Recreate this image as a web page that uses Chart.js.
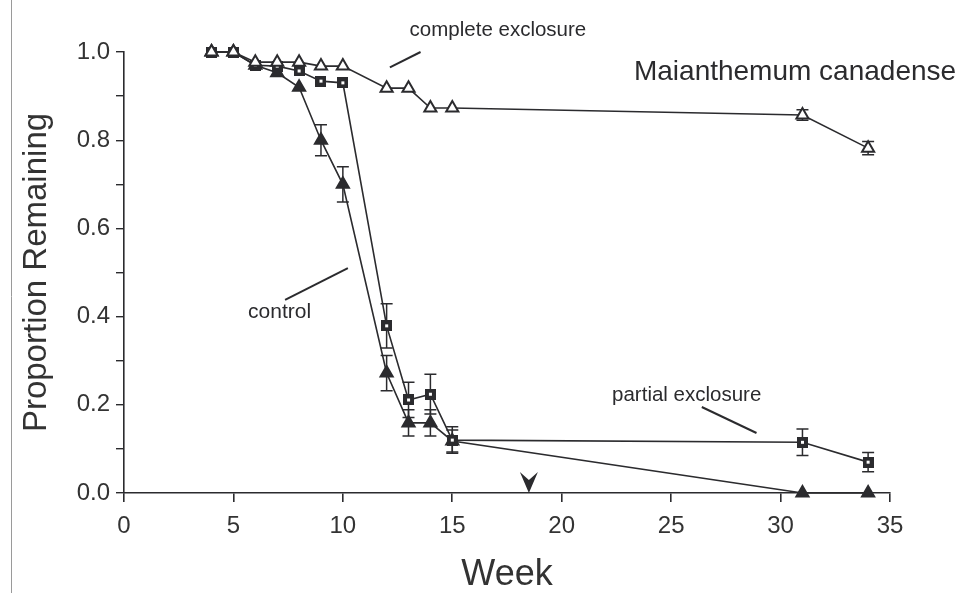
<!DOCTYPE html>
<html>
<head>
<meta charset="utf-8">
<script src="https://cdn.jsdelivr.net/npm/chart.js@4"></script>
<style>
  html, body { margin: 0; padding: 0; background: #fff; }
  #wrap { width: 973px; height: 593px; }
</style>
</head>
<body>
<div id="wrap"><canvas id="chart" width="973" height="593"></canvas></div>
<script>
// weeks sampled
const weeks = [4, 5, 6, 7, 8, 9, 10, 12, 13, 14, 15, 31, 34];

// proportion remaining per treatment
const complete = [1.0, 1.0, 0.977, 0.977, 0.977, 0.968, 0.968, 0.918, 0.918, 0.873, 0.873, 0.857, 0.782];
const partial  = [1.0, 1.0, 0.97, 0.968, 0.957, 0.934, 0.93, 0.379, 0.211, 0.224, 0.12, 0.115, 0.07];
const control  = [1.0, 1.0, 0.97, 0.953, 0.92, 0.80, 0.70, 0.272, 0.159, 0.159, 0.118, 0.0, 0.0];

// standard errors (0 = no bar drawn)
const completeErr = [0, 0, 0, 0, 0, 0, 0, 0, 0, 0, 0, 0.012, 0.015];
const partialErr  = [0, 0, 0, 0, 0, 0, 0, 0.05, 0.04, 0.045, 0.03, 0.03, 0.022];
const controlErr  = [0, 0, 0, 0, 0, 0.035, 0.04, 0.04, 0.03, 0.03, 0.025, 0, 0];

const ink = '#2b2b2e';
const fontFamily = '"Liberation Sans", Arial, sans-serif';

function toPoints(vals) {
    return weeks.map((w, i) => ({ x: w, y: vals[i] }));
}

// square marker with a small white dot in the middle
function squareMarker() {
    const c = document.createElement('canvas');
    c.width = 11; c.height = 11;
    const g = c.getContext('2d');
    g.fillStyle = ink;
    g.fillRect(0, 0, 11, 11);
    g.fillStyle = '#fff';
    g.fillRect(4, 4, 3, 3);
    return c;
}

// error bars with caps
const errorBars = {
    id: 'errorBars',
    beforeDatasetsDraw(chart) {
        const ctx = chart.ctx;
        const xs = chart.scales.x, ys = chart.scales.y;
        ctx.save();
        ctx.strokeStyle = ink;
        ctx.lineWidth = 1.5;
        chart.data.datasets.forEach(ds => {
            if (!ds.err) return;
            ds.data.forEach((p, i) => {
                const e = ds.err[i];
                if (!e) return;
                const px = xs.getPixelForValue(p.x);
                const top = ys.getPixelForValue(p.y + e);
                const bot = ys.getPixelForValue(Math.max(0, p.y - e));
                ctx.beginPath();
                ctx.moveTo(px, top); ctx.lineTo(px, bot);
                ctx.moveTo(px - 6, top); ctx.lineTo(px + 6, top);
                ctx.moveTo(px - 6, bot); ctx.lineTo(px + 6, bot);
                ctx.stroke();
            });
        });
        ctx.restore();
    }
};

// labels, leader lines and the arrow, positioned in data units
const labels = [
    { text: 'complete exclosure', x: 13.05, y: 1.05, size: 20.5 },
    { text: 'Maianthemum canadense', x: 23.3, y: 0.955, size: 28 },
    { text: 'control', x: 5.67, y: 0.41, size: 21 },
    { text: 'partial exclosure', x: 22.3, y: 0.222, size: 20.5 }
];
const leaders = [
    [12.15, 0.965, 13.55, 1.0],
    [7.36, 0.438, 10.23, 0.51],
    [26.4, 0.195, 28.9, 0.136]
];
const arrowWeek = 18.5;

const annotations = {
    id: 'annotations',
    afterDraw(chart) {
        const ctx = chart.ctx;
        const xs = chart.scales.x, ys = chart.scales.y;
        ctx.save();
        ctx.fillStyle = ink;
        ctx.strokeStyle = ink;
        ctx.textBaseline = 'middle';
        ctx.textAlign = 'left';
        labels.forEach(l => {
            ctx.font = l.size + 'px ' + fontFamily;
            ctx.fillText(l.text, xs.getPixelForValue(l.x), ys.getPixelForValue(l.y));
        });
        ctx.lineWidth = 2;
        leaders.forEach(s => {
            ctx.beginPath();
            ctx.moveTo(xs.getPixelForValue(s[0]), ys.getPixelForValue(s[1]));
            ctx.lineTo(xs.getPixelForValue(s[2]), ys.getPixelForValue(s[3]));
            ctx.stroke();
        });
        // downward arrowhead on the axis
        const ax = xs.getPixelForValue(arrowWeek);
        const ay = ys.getPixelForValue(0);
        ctx.beginPath();
        ctx.moveTo(ax, ay);
        ctx.lineTo(ax - 9, ay - 21);
        ctx.lineTo(ax, ay - 13);
        ctx.lineTo(ax + 9, ay - 21);
        ctx.closePath();
        ctx.fill();
        // faint scan border on the left
        ctx.strokeStyle = '#9a9a9a';
        ctx.lineWidth = 1;
        ctx.beginPath();
        ctx.moveTo(11.5, 0); ctx.lineTo(11.5, 593);
        ctx.stroke();
        ctx.restore();
    }
};

const lineBase = {
    borderColor: ink,
    borderWidth: 1.6,
    pointBorderColor: ink,
    pointBorderWidth: 2,
    showLine: true,
    clip: false,
    tension: 0
};

new Chart(document.getElementById('chart').getContext('2d'), {
    type: 'scatter',
    data: {
        datasets: [
            Object.assign({}, lineBase, {
                label: 'complete exclosure',
                data: toPoints(complete),
                err: completeErr,
                pointStyle: 'triangle',
                pointRadius: 7,
                pointBackgroundColor: '#fff',
                order: 0
            }),
            Object.assign({}, lineBase, {
                label: 'partial exclosure',
                data: toPoints(partial),
                err: partialErr,
                pointStyle: squareMarker(),
                pointRadius: 6,
                order: 1
            }),
            Object.assign({}, lineBase, {
                label: 'control',
                data: toPoints(control),
                err: controlErr,
                pointStyle: 'triangle',
                pointRadius: 7,
                pointBackgroundColor: ink,
                order: 2
            })
        ]
    },
    options: {
        responsive: false,
        animation: false,
        layout: { padding: { top: 52, right: 83, left: 0, bottom: 0 } },
        plugins: {
            legend: { display: false },
            tooltip: { enabled: false }
        },
        scales: {
            x: {
                type: 'linear',
                min: 0,
                max: 35,
                afterFit(scale) { scale.height = 100; },
                border: { color: ink, width: 1.6 },
                grid: { drawOnChartArea: false, color: ink, lineWidth: 1.6, tickLength: 9 },
                ticks: {
                    stepSize: 5,
                    color: '#333',
                    padding: 10,
                    font: { family: fontFamily, size: 24 }
                },
                title: {
                    display: true,
                    text: 'Week',
                    color: '#333',
                    padding: { top: 0, bottom: 0 },
                    font: { family: fontFamily, size: 36, lineHeight: 1 }
                }
            },
            y: {
                min: 0,
                max: 1.0,
                afterFit(scale) { scale.width = 124; },
                border: { color: ink, width: 1.6 },
                grid: { drawOnChartArea: false, color: ink, lineWidth: 1.4, tickLength: 8 },
                ticks: {
                    stepSize: 0.1,
                    color: '#333',
                    padding: 6,
                    font: { family: fontFamily, size: 24 },
                    callback: v => {
                        const r = Math.round(v * 10);
                        return r % 2 === 0 ? (r / 10).toFixed(1) : '';
                    }
                },
                title: {
                    display: true,
                    text: 'Proportion Remaining',
                    color: '#333',
                    padding: { top: 20, bottom: 0 },
                    font: { family: fontFamily, size: 33, lineHeight: 1 }
                }
            }
        }
    },
    plugins: [errorBars, annotations]
});
</script>
</body>
</html>
